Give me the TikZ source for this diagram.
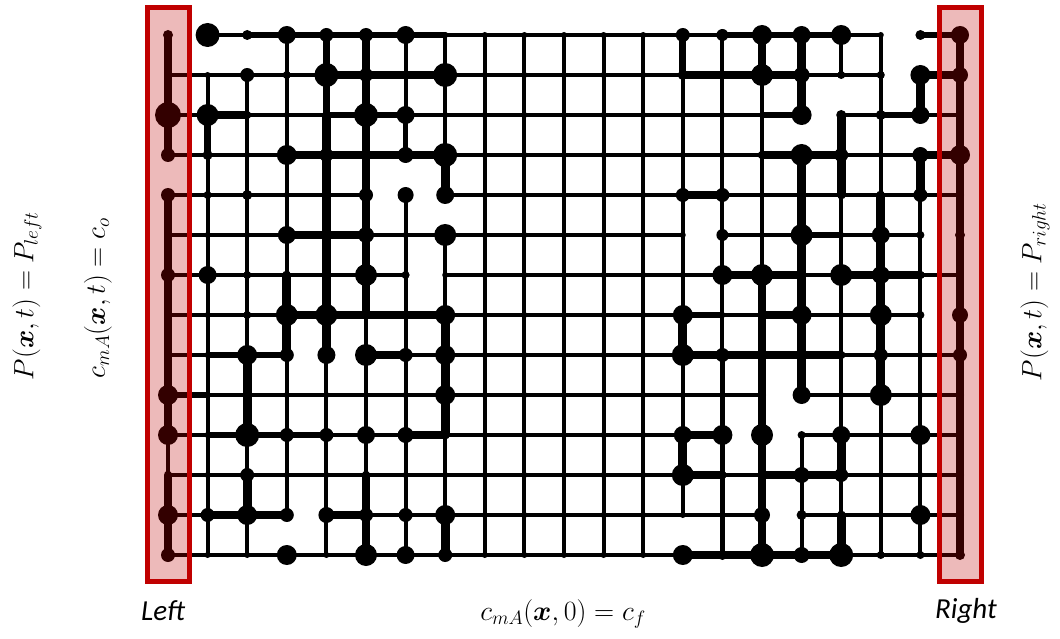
\documentclass[tikz,border=0pt]{standalone}
\usepackage{amsmath}
\usepackage{fontspec}
\newfontfamily\carlito{Carlito}
\definecolor{bcred}{RGB}{192,0,0}

\begin{document}
\begin{tikzpicture}[x=1pt,y=-1pt,
  throat/.style={line width=(2.3+1.6*#1)*1pt,line cap=round},
  bcbox/.style={draw=bcred,line width=5pt,fill=bcred,fill opacity=.27},
  eq/.style={font=\fontsize{27}{32}\selectfont},
  side/.style={font=\fontsize{29}{34}\selectfont\carlito\itshape}]
  \path[use as bounding box,fill=white] (0,0) rectangle (1060,639);
  \foreach \i in {0,...,20}
    \foreach \j in {0,...,13}
      \coordinate (p-\i-\j) at ({168+39.6*\i},{35+40*\j});

  \foreach \row [count=\j from 0] in {
    {0,1,2,2,2,2,2,1,1,1,1,1,1,1,2,2,2,1,0,2},
    {1,1,1,1,3,4,4,1,1,1,1,1,1,3,4,4,1,1,0,3},
    {1,3,1,1,2,2,1,1,1,1,1,1,1,1,1,2,0,1,2,1},
    {1,1,1,4,4,4,4,1,1,1,1,1,1,1,1,4,4,1,1,4},
    {1,1,1,1,1,0,0,1,1,1,1,1,1,4,1,1,1,1,1,1},
    {1,1,1,4,4,1,1,1,1,1,1,1,1,0,1,1,2,1,1,0},
    {1,1,1,1,1,1,0,1,1,1,1,1,1,1,4,4,1,4,4,1},
    {1,1,1,4,4,4,4,1,1,1,1,1,1,2,1,4,1,1,1,0},
    {1,2,2,0,0,4,1,1,1,1,1,1,1,4,4,4,4,1,1,1},
    {2,1,1,1,1,1,1,1,1,1,1,1,1,1,1,0,1,1,1,1},
    {1,2,2,2,1,1,4,1,1,1,1,1,1,4,0,0,1,1,1,1},
    {1,1,1,1,1,1,1,1,1,1,1,1,1,4,1,4,4,1,1,1},
    {1,4,4,0,4,1,1,1,1,1,1,1,1,1,1,0,1,1,1,1},
    {1,1,1,1,1,1,1,1,1,1,1,1,1,4,4,4,4,1,1,1}}
    \foreach \w [count=\i from 0] in \row {
      \pgfmathtruncatemacro\ii{\i+1}
      \ifnum\w>0 \draw[throat=\w] (p-\i-\j) -- (p-\ii-\j);\fi
    }

  \foreach \row [count=\j from 0] in {
    {3,0,0,1,3,4,1,1,1,1,1,1,1,3,1,4,4,1,1,0,3},
    {3,1,1,1,3,4,1,1,1,1,1,1,1,1,1,1,4,0,1,4,3},
    {4,3,1,1,4,4,2,1,1,1,1,1,1,1,1,1,0,4,1,0,3},
    {0,1,1,1,4,4,0,4,1,1,1,1,1,1,1,1,4,4,1,4,3},
    {3,1,1,1,4,4,1,0,1,1,1,1,1,1,1,1,4,1,4,1,3},
    {3,1,1,1,4,4,1,1,1,1,1,1,1,1,1,1,4,1,4,1,3},
    {4,1,1,4,4,4,1,1,1,1,1,1,1,1,1,4,4,1,4,1,3},
    {4,1,1,4,4,1,1,4,1,1,1,1,1,4,1,4,4,1,4,1,3},
    {4,1,4,1,1,1,1,4,1,1,1,1,1,1,2,4,4,1,4,1,3},
    {4,1,4,1,1,1,1,4,1,1,1,1,1,1,2,4,0,1,1,1,3},
    {1,1,1,1,1,1,1,1,1,1,1,1,1,4,2,4,1,4,1,1,3},
    {4,1,4,1,1,4,1,1,1,1,1,1,1,1,2,4,1,1,1,1,3},
    {4,1,1,0,1,4,1,4,1,1,1,1,1,0,2,4,1,4,1,1,3}}
    \foreach \w [count=\i from 0] in \row {
      \pgfmathtruncatemacro\jn{\j+1}
      \ifnum\w>0 \draw[throat=\w] (p-\i-\j) -- (p-\i-\jn);\fi
    }

  \foreach \row [count=\j from 0] in {
    {5,12,5,9,7,7,9,3,3,3,3,3,3,7,6,10,9,10,3,5,9},
    {3,3,7,4,12,7,3,12,3,3,3,3,3,5,3,11,8,4,4,10,8},
    {13,11,4,3,3,12,9,3,3,3,3,3,3,3,3,3,10,5,5,9,3},
    {7,5,3,10,7,3,8,12,3,3,3,3,3,3,3,3,11,7,3,8,10},
    {7,4,5,3,3,7,8,9,3,3,3,3,3,7,7,3,3,3,3,7,4},
    {3,3,3,9,3,8,3,11,3,3,3,3,3,3,6,3,11,3,9,4,5},
    {7,9,4,3,3,11,4,3,3,3,3,3,3,3,10,11,3,11,9,4,3},
    {3,3,4,11,11,4,3,10,3,3,3,3,3,10,3,3,10,3,11,4,8},
    {3,3,10,7,9,11,7,10,3,3,3,3,3,11,7,3,3,3,7,3,7},
    {10,3,3,3,3,3,3,10,3,3,3,3,3,3,3,4,9,3,11,3,4},
    {10,3,12,7,7,9,8,3,3,3,3,3,3,9,10,11,4,9,3,10,3},
    {3,3,7,3,3,3,3,3,3,3,3,3,3,11,3,3,8,7,3,3,4},
    {10,7,10,7,8,7,7,10,3,3,3,3,3,3,3,8,5,3,3,10,4},
    {7,3,3,10,3,11,9,7,3,3,3,3,3,10,5,12,8,12,4,4,5}}
    \foreach \r [count=\i from 0] in \row
      \fill (p-\i-\j) circle[radius=\r pt];

  \draw[bcbox] (147.5,7.5) rectangle (189.5,581.5);
  \draw[bcbox] (939,7.5) rectangle (981,581.5);

  \node[eq,rotate=90,scale=1.12] (bc-pleft) at (27,296) {$P(\boldsymbol{x},t)=P_{left}$};
  \node[eq,rotate=90,scale=1.12] (bc-cleft) at (98,298) {$c_{mA}(\boldsymbol{x},t)=c_o$};
  \node[eq,rotate=90,scale=1.12] (bc-pright) at (1035,292) {$P(\boldsymbol{x},t)=P_{right}$};
  \node[side] (lbl-left) at (163,611) {Left};
  \node[side] (lbl-right) at (966,611) {Right};
  \node[eq,scale=1.12] (ic) at (563,614) {$c_{mA}(\boldsymbol{x},0)=c_f$};
\end{tikzpicture}
\end{document}
